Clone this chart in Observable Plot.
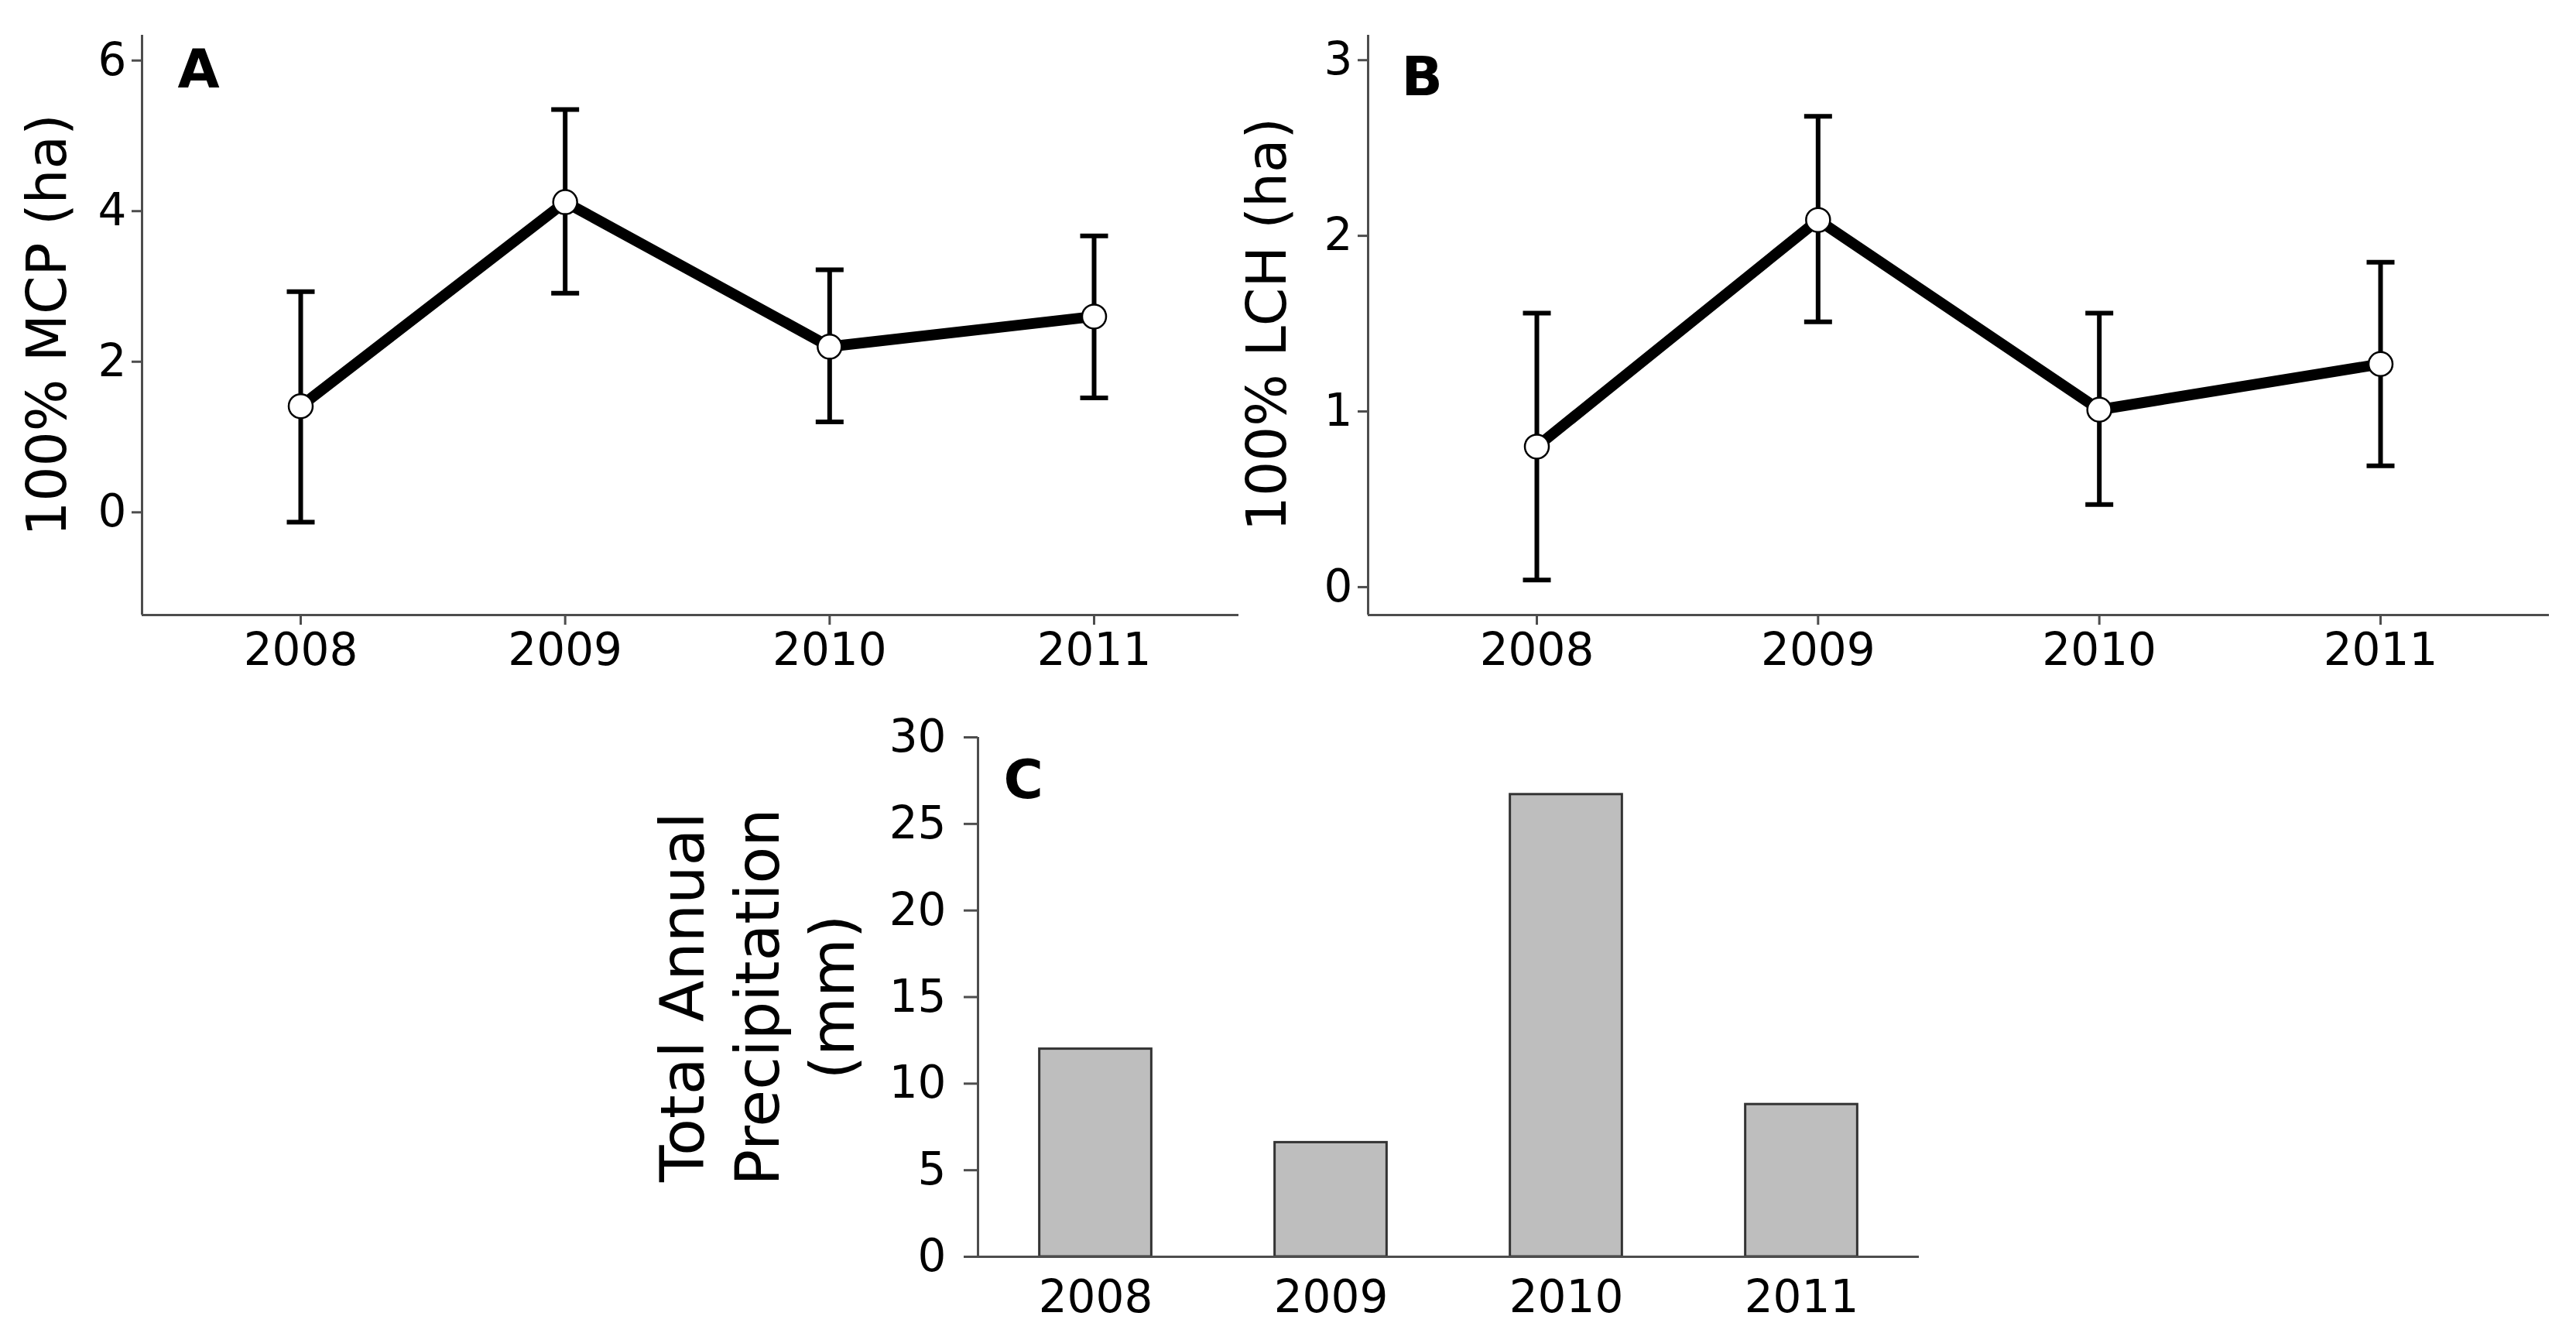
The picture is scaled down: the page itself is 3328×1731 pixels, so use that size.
<!DOCTYPE html>
<html>
<head>
<meta charset="utf-8">
<script src="https://cdn.jsdelivr.net/npm/d3@7"></script>
<script src="https://cdn.jsdelivr.net/npm/@observablehq/plot@0.6"></script>
<style>
  html, body { margin: 0; padding: 0; background: white; }
  #wrap { position: relative; width: 3328px; height: 1731px; background: white; overflow: hidden; font-family: "DejaVu Sans", Verdana, sans-serif; }
  #wrap svg { position: absolute; }
  .ytitle { position: absolute; white-space: nowrap; text-align: center; color: black; transform: translate(-50%, -50%) rotate(-90deg); }
</style>
</head>
<body>
<div id="wrap"></div>
<script>
// ---- data ----
const years = [2008, 2009, 2010, 2011];
const yearLabels = ["2008", "2009", "2010", "2011"];
const mcpMean = [1.41, 4.12, 2.20, 2.60];
const mcpLow  = [-0.13, 2.91, 1.20, 1.52];
const mcpHigh = [2.93, 5.35, 3.22, 3.67];
const lchMean = [0.80, 2.09, 1.01, 1.27];
const lchLow  = [0.04, 1.51, 0.47, 0.69];
const lchHigh = [1.56, 2.68, 1.56, 1.85];
const precip  = [12.0, 6.6, 26.7, 8.8];
const mcpTicks = [0, 2, 4, 6];
const lchTicks = [0, 1, 2, 3];
const precipTicks = [0, 5, 10, 15, 20, 25, 30];

const dataA = years.map((y, i) => ({year: y, mean: mcpMean[i], lo: mcpLow[i], hi: mcpHigh[i]}));
const dataB = years.map((y, i) => ({year: y, mean: lchMean[i], lo: lchLow[i], hi: lchHigh[i]}));
const dataC = years.map((y, i) => ({year: y, precip: precip[i]}));

const wrap = document.getElementById("wrap");
const AX = "#4d4d4d";
const FONT = "DejaVu Sans, Verdana, sans-serif";
const cap = { draw(ctx) { ctx.moveTo(-18, 0); ctx.lineTo(18, 0); } };
const fmtYear = d => yearLabels[years.indexOf(d)] ?? String(d);

function linePanel(data, yDomain, yTicks, letter, letterDx, letterDy, geom) {
  const xDomain = [2007.4, 2011.6];
  return Plot.plot({
    width: geom.width, height: geom.height,
    marginLeft: geom.ml, marginRight: geom.mr, marginTop: geom.mt, marginBottom: geom.mb,
    style: {fontFamily: FONT, background: "white", color: "black", overflow: "visible"},
    x: {type: "linear", domain: xDomain},
    y: {domain: yDomain},
    marks: [
      Plot.ruleX(data, {x: "year", y1: "lo", y2: "hi", stroke: "black", strokeWidth: 6}),
      Plot.dot(data, {x: "year", y: "lo", symbol: cap, fill: "none", stroke: "black", strokeWidth: 6}),
      Plot.dot(data, {x: "year", y: "hi", symbol: cap, fill: "none", stroke: "black", strokeWidth: 6}),
      Plot.line(data, {x: "year", y: "mean", stroke: "black", strokeWidth: 14, strokeLinejoin: "round"}),
      Plot.dot(data, {x: "year", y: "mean", r: 15.5, fill: "white", stroke: "black", strokeWidth: 2.5}),
      Plot.ruleX([xDomain[0]], {stroke: AX, strokeWidth: 3}),
      Plot.ruleY([yDomain[0]], {stroke: AX, strokeWidth: 3}),
      Plot.axisY({ticks: yTicks, tickFormat: d => String(d), tickSize: 13, tickPadding: 7, fontSize: 58, stroke: AX, strokeWidth: 3, fill: "black", label: null}),
      Plot.axisX({ticks: years, tickFormat: fmtYear, tickSize: 13, tickPadding: 10, fontSize: 58, stroke: AX, strokeWidth: 3, fill: "black", label: null}),
      Plot.text([letter], {text: d => d, frameAnchor: "top-left", textAnchor: "start", lineAnchor: "bottom", dx: letterDx, dy: letterDy, fontSize: 70, fontWeight: "bold", fill: "black"})
    ]
  });
}

const svgA = linePanel(dataA, [-1.364, 6.336], mcpTicks, "A", 46, 67, {width: 1660, height: 880, ml: 183, mr: 42, mt: 45, mb: 86});
svgA.style.left = "0px"; svgA.style.top = "0px";
wrap.appendChild(svgA);

const svgB = linePanel(dataB, [-0.159, 3.142], lchTicks, "B", 43, 77, {width: 1728, height: 880, ml: 167, mr: 35, mt: 45, mb: 86});
svgB.style.left = "1600px"; svgB.style.top = "0px";
wrap.appendChild(svgB);

const xDomC = [2007.5, 2011.5];
const svgC = Plot.plot({
  width: 1700, height: 851,
  marginLeft: 363, marginRight: 121, marginTop: 72, marginBottom: 108,
  style: {fontFamily: FONT, background: "white", color: "black", overflow: "visible"},
  x: {type: "linear", domain: xDomC},
  y: {domain: [0, 30]},
  marks: [
    Plot.rectY(dataC, {x1: d => d.year - 0.238, x2: d => d.year + 0.238, y: "precip", fill: "#bebebe", stroke: "#333333", strokeWidth: 3}),
    Plot.ruleX([xDomC[0]], {stroke: AX, strokeWidth: 3}),
    Plot.ruleY([0], {stroke: AX, strokeWidth: 3}),
    Plot.axisY({ticks: precipTicks, tickFormat: d => String(d), tickSize: 18, tickPadding: 23, fontSize: 58, stroke: AX, strokeWidth: 3, fill: "black", label: null}),
    Plot.axisX({ticks: years, tickFormat: fmtYear, tickSize: 0, tickPadding: 30, fontSize: 58, fill: "black", label: null}),
    Plot.text(["C"], {text: d => d, frameAnchor: "top-left", textAnchor: "start", lineAnchor: "bottom", dx: 33, dy: 78, fontSize: 70, fontWeight: "bold", fill: "black"})
  ]
});
svgC.style.left = "900px"; svgC.style.top = "880px";
wrap.appendChild(svgC);

// ---- axis titles ----
function addTitle(html, cx, cy, size, lh) {
  const d = document.createElement("div");
  d.className = "ytitle";
  d.innerHTML = html;
  d.style.left = cx + "px";
  d.style.top = cy + "px";
  d.style.fontSize = size + "px";
  d.style.lineHeight = lh + "px";
  wrap.appendChild(d);
}
addTitle("100% MCP (ha)", 60, 420, 71, 71);
addTitle("100% LCH (ha)", 1636, 419, 71, 71);
addTitle("Total Annual<br>Precipitation<br>(mm)", 979, 1288, 78, 97);
</script>
</body>
</html>
